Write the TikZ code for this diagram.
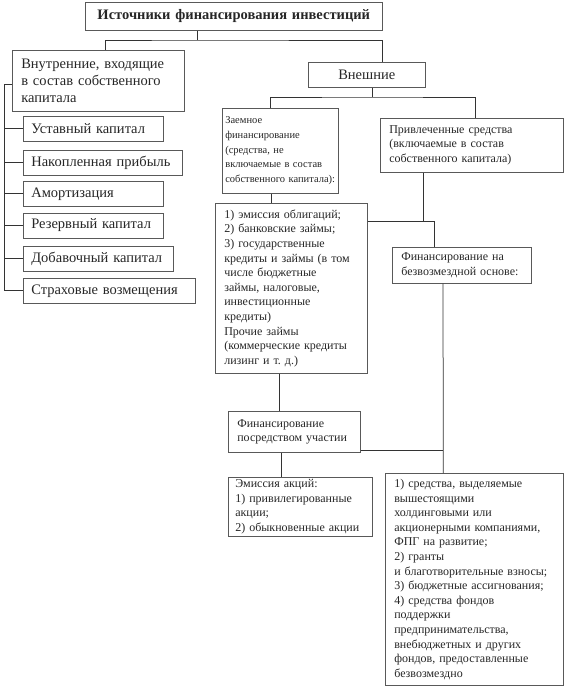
\documentclass[tikz,border=0pt]{standalone}
\usepackage{fontspec}
\setmainfont{Liberation Serif}
\usetikzlibrary{positioning}
\frenchspacing
\begin{document}
\begin{tikzpicture}[
        x=1pt, y=-1pt,
        box/.style={draw=black!65, line width=0.6pt, anchor=north west, inner xsep=9pt, inner ysep=2pt, text=black!85},
        bigtxt/.style={font=\fontsize{14.5}{17}\selectfont, align=left},
        smalltxt/.style={font=\fontsize{12}{14.6}\selectfont, align=left},
        link/.style={draw=black!80, line width=0.75pt}
    ]
    \useasboundingbox (0,0) rectangle (566,687);

    % Top level
    \node[box, font=\fontsize{14.5}{17}\selectfont\bfseries, align=center, text width=279pt, minimum height=28pt] at (85,2) (src) {Источники финансирования инвестиций};
    \node[box, bigtxt, text width=154pt, minimum height=61pt] at (12,50) (inner) {Внутренние, входящие\\в состав собственного\\капитала};
    \node[box, bigtxt, align=center, text width=99pt, minimum height=25pt] at (308,62) (ext) {Внешние};

    % Own capital
    \node[box, bigtxt, inner xsep=8pt, text width=124pt, minimum height=25pt] at (23,116) (own1) {Уставный капитал};
    \node[box, bigtxt, inner xsep=8pt, text width=143pt, minimum height=25pt] at (23,150) (own2) {Накопленная прибыль};
    \node[box, bigtxt, inner xsep=8pt, text width=124pt, minimum height=25pt] at (23,181) (own3) {Амортизация};
    \node[box, bigtxt, inner xsep=8pt, text width=124pt, minimum height=25pt] at (23,212.5) (own4) {Резервный капитал};
    \node[box, bigtxt, inner xsep=8pt, text width=134pt, minimum height=25pt] at (23,246) (own5) {Добавочный капитал};
    \node[box, bigtxt, inner xsep=8pt, text width=156pt, minimum height=25pt] at (23,278) (own6) {Страховые возмещения};

    % External sources
    \node[box, smalltxt, font=\fontsize{10.5}{14.6}\selectfont, inner xsep=3pt, text width=110pt, minimum height=85pt] at (222,108) (loan) {Заемное\\финансирование\\(средства, не\\включаемые в состав\\собственного капитала):};
    \node[box, smalltxt, text width=165pt, minimum height=54pt] at (380,118) (attr) {Привлеченные средства\\(включаемые в состав\\собственного капитала)};
    \node[box, smalltxt, text width=134pt, minimum height=170pt] at (215,203) (loanlist) {1) эмиссия облигаций;\\2) банковские займы;\\3) государственные\\кредиты и займы (в том\\числе бюджетные\\займы, налоговые,\\инвестиционные\\кредиты)\\Прочие займы\\(коммерческие кредиты\\лизинг и т. д.)};
    \node[box, smalltxt, text width=121pt, minimum height=36pt] at (392,247) (free) {Финансирование на\\безвозмездной основе:};
    \node[box, smalltxt, text width=114pt, minimum height=41pt] at (228,411) (part) {Финансирование\\посредством участии};
    \node[box, smalltxt, inner xsep=7pt, text width=130pt, minimum height=58pt] at (228,477) (shares) {Эмиссия акций:\\1) привилегированные\\акции;\\2) обыкновенные акции};
    \node[box, smalltxt, text width=160pt, minimum height=212pt] at (385,473) (grants) {1) средства, выделяемые\\вышестоящими\\холдинговыми или\\акционерными компаниями,\\ФПГ на развитие;\\2) гранты\\и благотворительные взносы;\\3) бюджетные ассигнования;\\4) средства фондов\\поддержки\\предпринимательства,\\внебюджетных и других\\фондов, предоставленные\\безвозмездно};

    % Connectors, top
    \coordinate (tbus) at (197,40);
    \draw[link] (src.south -| tbus) -- (tbus);
    \draw[link] ([xshift=7pt]inner.north) |- (tbus) -| ([xshift=15.5pt]ext.north);

    % Connectors, own capital
    \coordinate (lbus) at (4,84);
    \draw[link] (inner.west |- lbus) -- (lbus) |- (own6.west);
    \draw[link] (own1.west) -- (lbus |- own1.west);
    \draw[link] (own2.west) -- (lbus |- own2.west);
    \draw[link] (own3.west) -- (lbus |- own3.west);
    \draw[link] (own4.west) -- (lbus |- own4.west);
    \draw[link] (own5.west) -- (lbus |- own5.west);

    % Connectors, external
    \coordinate (ebus) at (372,97);
    \draw[link] (ext.south -| ebus) -- (ebus);
    \draw[link] ([xshift=-10pt]loan.north) |- (ebus) -| ([xshift=3.5pt]attr.north);
    \draw[link] ([xshift=-9pt]loan.south) -- ([xshift=-9pt]loan.south |- loanlist.north);
    \coordinate (fbus) at (434,221);
    \draw[link] ([xshift=-48.5pt]attr.south) -- ([xshift=-48.5pt]attr.south |- fbus);
    \draw[link] (loanlist.east |- fbus) -- (fbus) -- (fbus |- free.north);
    \draw[link] ([xshift=-15pt]part.north) -- ([xshift=-15pt]part.north |- loanlist.south);
    \draw[link] ([xshift=-19pt]shares.north) -- ([xshift=-19pt]shares.north |- part.south);
    \coordinate (gbus) at (443,450);
    \draw[link] (free.south -| gbus) -- ([xshift=-31pt]grants.north);
    \draw[link] (part.east |- gbus) -- (gbus);

\end{tikzpicture}
\end{document}
